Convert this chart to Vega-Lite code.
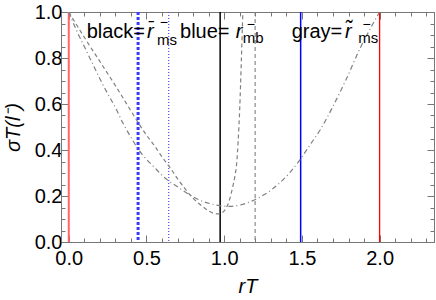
{
  "$schema": "https://vega.github.io/schema/vega-lite/v6.json",
  "width": 373,
  "height": 230,
  "autosize": {"type": "none"},
  "padding": {"left": 61, "top": 12, "right": 2, "bottom": 58},
  "config": {
    "view": {"stroke": "#777777", "strokeWidth": 1},
    "font": "Liberation Sans",
    "axis": {
      "grid": false,
      "domainColor": "#777777",
      "tickColor": "#777777",
      "labelFont": "Liberation Sans",
      "labelFontSize": 20,
      "labelColor": "#000000",
      "labelFlush": false,
      "labelOverlap": false,
      "titleFont": "Liberation Sans",
      "titleFontSize": 20,
      "titleFontWeight": "normal",
      "titleColor": "#000000"
    }
  },
  "datasets": {
    "rules": [
      {"x": 0, "kind": "red0"},
      {"x": 2.0, "kind": "red2"},
      {"x": 0.974, "kind": "black"},
      {"x": 1.492, "kind": "blue"},
      {"x": 1.199, "kind": "grayDash"},
      {"x": 0.446, "kind": "blueThickDash"},
      {"x": 0.643, "kind": "blueDot"}
    ],
    "curves": [
      {"s": "dd", "x": 0, "y": 1.0}, {"s": "dd", "x": 0.05, "y": 0.92}, {"s": "dd", "x": 0.1, "y": 0.85},
      {"s": "dd", "x": 0.15, "y": 0.78}, {"s": "dd", "x": 0.2, "y": 0.71}, {"s": "dd", "x": 0.25, "y": 0.645},
      {"s": "dd", "x": 0.3, "y": 0.585}, {"s": "dd", "x": 0.35, "y": 0.515}, {"s": "dd", "x": 0.4, "y": 0.455},
      {"s": "dd", "x": 0.45, "y": 0.40}, {"s": "dd", "x": 0.5, "y": 0.36}, {"s": "dd", "x": 0.55, "y": 0.325},
      {"s": "dd", "x": 0.6, "y": 0.29}, {"s": "dd", "x": 0.65, "y": 0.262}, {"s": "dd", "x": 0.7, "y": 0.24},
      {"s": "dd", "x": 0.78, "y": 0.204}, {"s": "dd", "x": 0.85, "y": 0.18}, {"s": "dd", "x": 0.92, "y": 0.165},
      {"s": "dd", "x": 0.97, "y": 0.158}, {"s": "dd", "x": 1.03, "y": 0.155}, {"s": "dd", "x": 1.08, "y": 0.158},
      {"s": "dd", "x": 1.14, "y": 0.168}, {"s": "dd", "x": 1.2, "y": 0.185}, {"s": "dd", "x": 1.3, "y": 0.225},
      {"s": "dd", "x": 1.42, "y": 0.30}, {"s": "dd", "x": 1.49, "y": 0.36}, {"s": "dd", "x": 1.56, "y": 0.43},
      {"s": "dd", "x": 1.62, "y": 0.49}, {"s": "dd", "x": 1.7, "y": 0.59}, {"s": "dd", "x": 1.78, "y": 0.70},
      {"s": "dd", "x": 1.88, "y": 0.85}, {"s": "dd", "x": 1.95, "y": 0.94}, {"s": "dd", "x": 2.0, "y": 1.0},
      {"s": "da", "x": 0, "y": 1.0}, {"s": "da", "x": 0.1, "y": 0.89}, {"s": "da", "x": 0.2, "y": 0.785},
      {"s": "da", "x": 0.3, "y": 0.68}, {"s": "da", "x": 0.4, "y": 0.57}, {"s": "da", "x": 0.455, "y": 0.51},
      {"s": "da", "x": 0.5, "y": 0.465}, {"s": "da", "x": 0.55, "y": 0.42}, {"s": "da", "x": 0.6, "y": 0.37},
      {"s": "da", "x": 0.65, "y": 0.325}, {"s": "da", "x": 0.7, "y": 0.275}, {"s": "da", "x": 0.75, "y": 0.23},
      {"s": "da", "x": 0.8, "y": 0.19}, {"s": "da", "x": 0.86, "y": 0.155}, {"s": "da", "x": 0.9, "y": 0.135},
      {"s": "da", "x": 0.95, "y": 0.122}, {"s": "da", "x": 0.98, "y": 0.125}, {"s": "da", "x": 1.01, "y": 0.145},
      {"s": "da", "x": 1.035, "y": 0.185}, {"s": "da", "x": 1.055, "y": 0.24}, {"s": "da", "x": 1.07, "y": 0.29},
      {"s": "da", "x": 1.08, "y": 0.34}, {"s": "da", "x": 1.09, "y": 0.44}, {"s": "da", "x": 1.1, "y": 0.58},
      {"s": "da", "x": 1.11, "y": 0.78}, {"s": "da", "x": 1.12, "y": 1.0}
    ],
    "ann": [
      {"part": "main", "t": "black=", "x": 0.115, "y": 0.887},
      {"part": "main", "t": "blue=", "x": 0.716, "y": 0.887},
      {"part": "main", "t": "gray=", "x": 1.434, "y": 0.887},
      {"part": "var", "t": "r̄", "x": 0.504, "y": 0.887},
      {"part": "var", "t": "r", "x": 1.075, "y": 0.887},
      {"part": "var", "t": "r̃", "x": 1.777, "y": 0.887},
      {"part": "sup", "t": "−", "x": 0.585, "y": 0.933},
      {"part": "sup", "t": "−", "x": 1.145, "y": 0.925},
      {"part": "sup", "t": "−", "x": 1.89, "y": 0.925},
      {"part": "sub", "t": "ms", "x": 0.567, "y": 0.857},
      {"part": "sub", "t": "mb", "x": 1.119, "y": 0.864},
      {"part": "sub", "t": "ms", "x": 1.863, "y": 0.864}
    ]
  },
  "layer": [
    {
      "data": {"name": "rules"},
      "transform": [{"filter": "datum.kind == 'red0'"}],
      "mark": {"type": "rule", "color": "#ff6666", "strokeWidth": 2},
      "encoding": {
        "x": {
          "field": "x", "type": "quantitative",
          "scale": {"domain": [-0.05, 2.35], "nice": false, "zero": false},
          "axis": {
            "orient": "bottom",
            "values": [0,0.1,0.2,0.3,0.4,0.5,0.6,0.7,0.8,0.9,1,1.1,1.2,1.3,1.4,1.5,1.6,1.7,1.8,1.9,2,2.1,2.2,2.3],
            "labelExpr": "abs(datum.value*2-round(datum.value*2))<0.001 ? format(datum.value,'.1f') : ''",
            "tickSize": {"condition": {"test": "abs(datum.value*2-round(datum.value*2))<0.001", "value": -7}, "value": -4},
            "labelPadding": 13,
            "title": "rT",
            "titleFontStyle": "italic",
            "titlePadding": 5
          }
        }
      }
    },
    {
      "data": {"name": "rules"},
      "transform": [{"filter": "datum.kind == 'red2'"}],
      "mark": {"type": "rule", "color": "#ff0000", "strokeWidth": 1.3},
      "encoding": {"x": {"field": "x", "type": "quantitative", "axis": null}}
    },
    {
      "data": {"name": "rules"},
      "transform": [{"filter": "datum.kind == 'black'"}],
      "mark": {"type": "rule", "color": "#000000", "strokeWidth": 1.5},
      "encoding": {"x": {"field": "x", "type": "quantitative", "axis": null}}
    },
    {
      "data": {"name": "rules"},
      "transform": [{"filter": "datum.kind == 'blue'"}],
      "mark": {"type": "rule", "color": "#0000ff", "strokeWidth": 1.5},
      "encoding": {"x": {"field": "x", "type": "quantitative", "axis": null}}
    },
    {
      "data": {"name": "rules"},
      "transform": [{"filter": "datum.kind == 'grayDash'"}],
      "mark": {"type": "rule", "color": "#808080", "strokeWidth": 1.1, "strokeDash": [4, 3]},
      "encoding": {"x": {"field": "x", "type": "quantitative", "axis": null}}
    },
    {
      "data": {"name": "rules"},
      "transform": [{"filter": "datum.kind == 'blueThickDash'"}],
      "mark": {"type": "rule", "color": "#3a3aff", "strokeWidth": 3, "strokeDash": [3, 2]},
      "encoding": {"x": {"field": "x", "type": "quantitative", "axis": null}}
    },
    {
      "data": {"name": "rules"},
      "transform": [{"filter": "datum.kind == 'blueDot'"}],
      "mark": {"type": "rule", "color": "#4a4aff", "strokeWidth": 1.2, "strokeDash": [1, 2]},
      "encoding": {"x": {"field": "x", "type": "quantitative", "axis": null}}
    },
    {
      "data": {"name": "curves"},
      "mark": {"type": "line", "interpolate": "monotone", "clip": true, "strokeWidth": 1.2, "color": "#808080"},
      "encoding": {
        "x": {
          "field": "x", "type": "quantitative",
          "axis": {
            "orient": "top",
            "values": [0,0.1,0.2,0.3,0.4,0.5,0.6,0.7,0.8,0.9,1,1.1,1.2,1.3,1.4,1.5,1.6,1.7,1.8,1.9,2,2.1,2.2,2.3],
            "labels": false, "title": null,
            "tickSize": {"condition": {"test": "abs(datum.value*2-round(datum.value*2))<0.001", "value": -7}, "value": -4}
          }
        },
        "y": {
          "field": "y", "type": "quantitative",
          "scale": {"domain": [0, 1], "nice": false, "zero": false},
          "axis": {
            "orient": "left",
            "values": [0,0.05,0.1,0.15,0.2,0.25,0.3,0.35,0.4,0.45,0.5,0.55,0.6,0.65,0.7,0.75,0.8,0.85,0.9,0.95,1],
            "labelExpr": "abs(datum.value*5-round(datum.value*5))<0.001 ? format(datum.value,'.1f') : ''",
            "tickSize": {"condition": {"test": "abs(datum.value*5-round(datum.value*5))<0.001", "value": -7}, "value": -4},
            "labelPadding": 6,
            "title": "σT(l⁻)",
            "titleFontStyle": "italic",
            "titlePadding": 11
          }
        },
        "strokeDash": {"field": "s", "type": "nominal", "legend": null,
          "scale": {"domain": ["dd", "da"], "range": [[5,3,1,3],[4,3]]}}
      }
    },
    {
      "data": {"name": "ann"},
      "transform": [{"filter": "datum.part == 'main'"}],
      "mark": {"type": "text", "align": "left", "baseline": "alphabetic", "fontSize": 20, "font": "Liberation Sans"},
      "encoding": {
        "x": {"field": "x", "type": "quantitative", "axis": null},
        "y": {
          "field": "y", "type": "quantitative",
          "axis": {
            "orient": "right",
            "values": [0,0.05,0.1,0.15,0.2,0.25,0.3,0.35,0.4,0.45,0.5,0.55,0.6,0.65,0.7,0.75,0.8,0.85,0.9,0.95,1],
            "labels": false, "title": null,
            "tickSize": {"condition": {"test": "abs(datum.value*5-round(datum.value*5))<0.001", "value": -7}, "value": -4}
          }
        },
        "text": {"field": "t"}
      }
    },
    {
      "data": {"name": "ann"},
      "transform": [{"filter": "datum.part == 'var'"}],
      "mark": {"type": "text", "align": "left", "baseline": "alphabetic", "fontSize": 20, "fontStyle": "italic", "font": "Liberation Sans"},
      "encoding": {
        "x": {"field": "x", "type": "quantitative", "axis": null},
        "y": {"field": "y", "type": "quantitative", "axis": null},
        "text": {"field": "t"}
      }
    },
    {
      "data": {"name": "ann"},
      "transform": [{"filter": "datum.part == 'sup'"}],
      "mark": {"type": "text", "align": "left", "baseline": "alphabetic", "fontSize": 14, "font": "Liberation Sans"},
      "encoding": {
        "x": {"field": "x", "type": "quantitative", "axis": null},
        "y": {"field": "y", "type": "quantitative", "axis": null},
        "text": {"field": "t"}
      }
    },
    {
      "data": {"name": "ann"},
      "transform": [{"filter": "datum.part == 'sub'"}],
      "mark": {"type": "text", "align": "left", "baseline": "alphabetic", "fontSize": 15, "font": "Liberation Sans"},
      "encoding": {
        "x": {"field": "x", "type": "quantitative", "axis": null},
        "y": {"field": "y", "type": "quantitative", "axis": null},
        "text": {"field": "t"}
      }
    }
  ],
  "resolve": {
    "axis": {"x": "independent", "y": "independent"},
    "scale": {"strokeDash": "independent"}
  }
}
